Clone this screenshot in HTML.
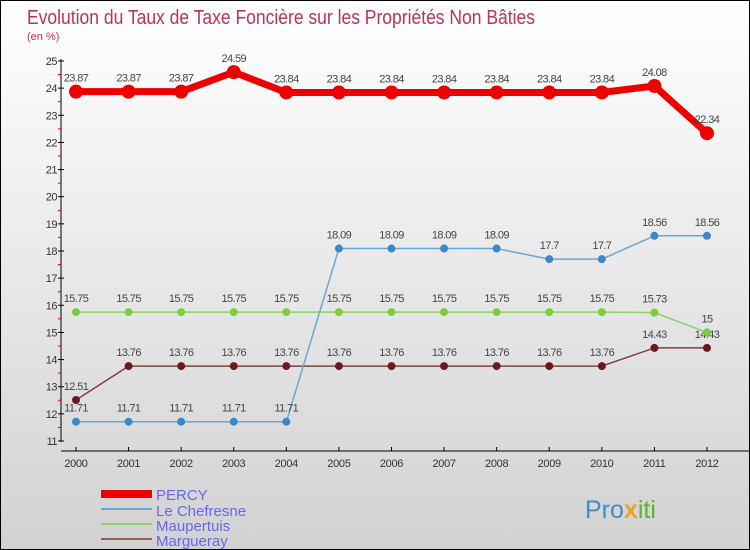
<!DOCTYPE html>
<html><head><meta charset="utf-8"><style>
body{margin:0}
#c{position:relative;width:748px;height:548px;border:1px solid #000;background:linear-gradient(#ffffff,#d2d2d2);font-family:"Liberation Sans",sans-serif;overflow:hidden}
svg text{font-family:"Liberation Sans",sans-serif}
</style></head><body>
<div id="c">
<svg id="s" width="748" height="548">
<text x="26" y="23" font-size="20" fill="#c0305a" textLength="508" lengthAdjust="spacingAndGlyphs">Evolution du Taux de Taxe Foncière sur les Propriétés Non Bâties</text>
<text x="26" y="39" font-size="11" fill="#c0305a">(en %)</text>
<g id="g"></g>
<g>
<rect x="100" y="489" width="51" height="8" fill="#e00"/>
<text x="155" y="499" font-size="15" fill="#6666ee">PERCY</text>
<rect x="100" y="507" width="51" height="2" fill="#6aa8d0"/>
<text x="155" y="515" font-size="15" fill="#6666ee">Le Chefresne</text>
<rect x="100" y="522" width="51" height="2" fill="#90d070"/>
<text x="155" y="530" font-size="15" fill="#6666ee">Maupertuis</text>
<rect x="100" y="537" width="51" height="2" fill="#906060"/>
<text x="155" y="545" font-size="15" fill="#6666ee">Margueray</text>
</g>
<text x="584" y="517" font-size="25" fill="#3a8fd0">Pro<tspan fill="#f0a020" font-weight="bold">x</tspan><tspan fill="#60b030">iti</tspan></text>
</svg></div>
<script>
const years=[2000,2001,2002,2003,2004,2005,2006,2007,2008,2009,2010,2011,2012];
const yTicks=[11,12,13,14,15,16,17,18,19,20,21,22,23,24,25];
const percy=[23.87,23.87,23.87,24.59,23.84,23.84,23.84,23.84,23.84,23.84,23.84,24.08,22.34];
const chefresne=[11.71,11.71,11.71,11.71,11.71,18.09,18.09,18.09,18.09,17.7,17.7,18.56,18.56];
const maupertuis=[15.75,15.75,15.75,15.75,15.75,15.75,15.75,15.75,15.75,15.75,15.75,15.73,15];
const margueray=[12.51,13.76,13.76,13.76,13.76,13.76,13.76,13.76,13.76,13.76,13.76,14.43,14.43];
const NS='http://www.w3.org/2000/svg';
const g=document.getElementById('g');
function x(i){return 75+i*(706-75)/12;}
function y(v){return 60+(25-v)*(380/14);}
function el(t,a,p){const e=document.createElementNS(NS,t);for(const k in a)e.setAttribute(k,a[k]);(p||g).appendChild(e);return e;}
let ax=el('line',{x1:60,y1:58,x2:60,y2:441,stroke:'#000'});


let xa=el('line',{x1:60,y1:450,x2:748,y2:450,stroke:'#000'});


yTicks.forEach(v=>{
 el('line',{x1:57,y1:y(v),x2:63,y2:y(v),stroke:'#000'});
 if(v<25)el('line',{x1:57,y1:y(v+0.5),x2:60,y2:y(v+0.5),stroke:'#e00'});
 const t=el('text',{x:56,y:y(v)+4,'font-size':11,fill:'#333','text-anchor':'end','letter-spacing':'-0.5'});t.textContent=v;
 
 
});
years.forEach((yr,i)=>{
 el('line',{x1:x(i),y1:446,x2:x(i),y2:450,stroke:'#000'});
 const t=el('text',{x:x(i),y:466,'font-size':11,fill:'#333','text-anchor':'middle','letter-spacing':'-0.3'});t.textContent=yr;
 
 
});
function series(d,name,col,dot,w,r){
 const s=el('g',{});
 
 
 el('polyline',{points:d.map((v,i)=>x(i)+','+y(v)).join(' '),fill:'none',stroke:col,'stroke-width':w,'stroke-linejoin':'round'},s);
 d.forEach((v,i)=>{
  const c=el('circle',{cx:x(i),cy:y(v),r:r,fill:dot},s);
  
  
  const t=el('text',{x:x(i),y:y(v)-10,'font-size':11,fill:'#444','text-anchor':'middle','letter-spacing':'-0.6'},s);t.textContent=v;
  
  
 });
}
series(margueray,'margueray','#804040','#6a1a1a',1.5,4);
series(maupertuis,'maupertuis','#90d070','#80cc40',1.5,4);
series(chefresne,'le-chefresne','#6aa8d0','#3a88c8',1.5,4);
series(percy,'percy','#e00','#e00',7,7);
</script>
</body></html>
